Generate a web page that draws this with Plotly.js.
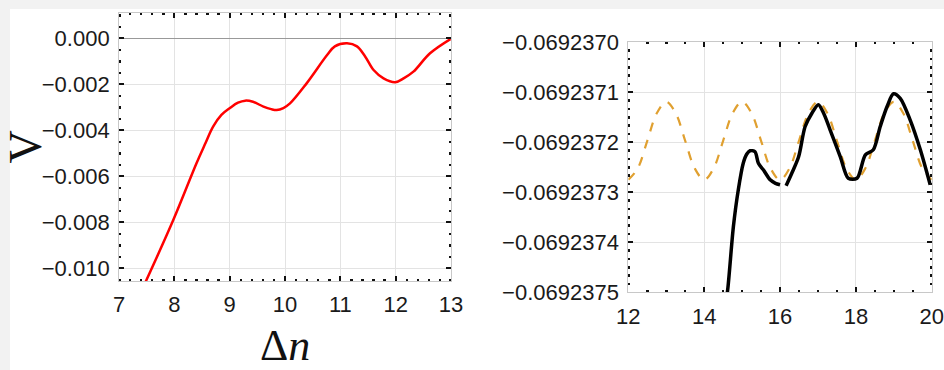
<!DOCTYPE html>
<html><head><meta charset="utf-8">
<script src="https://cdn.plot.ly/plotly-3.0.1.min.js"></script>
<style>html,body{margin:0;padding:0;background:#fff}#p{width:944px;height:370px}</style>
</head><body><div id="p"></div>
<script>
// Left panel: V vs Δn
const leftX = [7.47,7.98,8.40,8.55,8.70,8.85,9.01,9.15,9.28,9.42,9.61,9.75,9.85,9.97,10.09,10.39,10.76,10.90,11.12,11.30,11.45,11.60,11.78,11.99,12.15,12.32,12.62,12.99];
const leftV = [-0.01064,-0.0079,-0.00543,-0.00462,-0.00384,-0.00333,-0.00302,-0.00280,-0.00271,-0.00276,-0.00297,-0.00308,-0.00312,-0.00303,-0.00283,-0.00196,-0.00073,-0.00035,-0.00022,-0.00035,-0.00080,-0.00138,-0.00174,-0.00191,-0.00173,-0.00145,-0.00065,-0.00003];

// Right panel: dashed orange reference curve
const orangeX = [12,12.25,12.5,12.75,13,13.25,13.5,13.75,14,14.25,14.5,14.75,15,15.25,15.5,15.75,16,16.25,16.5,16.75,17,17.25,17.5,17.75,18,18.25,18.5,18.75,19,19.25,19.5,19.75,20];
const orangeV = [-0.069237275,-0.069237252,-0.069237197,-0.069237142,-0.069237119,-0.069237142,-0.069237197,-0.069237252,
 -0.069237275,-0.069237252,-0.069237197,-0.069237142,-0.069237119,-0.069237142,-0.069237197,-0.069237252,
 -0.069237275,-0.069237252,-0.069237197,-0.069237142,-0.069237119,-0.069237142,-0.069237197,-0.069237252,
 -0.069237275,-0.069237252,-0.069237197,-0.069237142,-0.069237119,-0.069237142,-0.069237197,-0.069237252,-0.069237275];

// Right panel: black numerical curve (two segments)
const black1X = [14.55,14.62,14.77,14.90,15.03,15.12,15.21,15.34,15.43,15.56,15.74,15.88,16.0];
const black1V = [-0.06923753,-0.069237495,-0.069237369,-0.069237295,-0.069237242,-0.069237224,-0.069237217,-0.069237219,-0.069237242,-0.069237255,-0.069237275,-0.069237282,-0.069237285];
const black2X = [16.16,16.31,16.49,16.66,16.84,17.01,17.15,17.32,17.59,17.80,18.03,18.25,18.46,18.64,18.82,18.99,19.17,19.43,19.70,19.96];
const black2V = [-0.069237287,-0.069237262,-0.069237229,-0.069237169,-0.069237142,-0.069237125,-0.069237142,-0.069237175,-0.069237229,-0.069237272,-0.069237272,-0.069237225,-0.069237215,-0.069237169,-0.069237129,-0.069237103,-0.069237112,-0.069237155,-0.069237215,-0.069237285];

const tickFont = {family:'Liberation Sans, Arial, sans-serif', size:22, color:'#1a1a1a'};
const gridC = '#e3e3e3';
function minor(d){ return {dtick:d, ticks:'inside', ticklen:2, tickwidth:2.5, tickcolor:'#111', showgrid:false}; }
function ax(extra){
  return Object.assign({
    showgrid:true, gridcolor:gridC, gridwidth:1, zeroline:false,
    showline:true, linecolor:'#c8c8c8', linewidth:1, mirror:'ticks',
    ticks:'inside', ticklen:5, tickwidth:2, tickcolor:'#111',
    tickfont:tickFont, ticklabelstandoff:4
  }, extra);
}
function mirrorY(extra){
  return Object.assign({
    side:'right', showgrid:false, zeroline:false, showline:false, showticklabels:false,
    ticks:'inside', ticklen:5, tickwidth:2, tickcolor:'#111'
  }, extra);
}

const traces = [
  {x:leftX, y:leftV, xaxis:'x', yaxis:'y', mode:'lines', line:{color:'#ff0000', width:2.5, shape:'spline', smoothing:1}, hoverinfo:'skip'},
  {x:orangeX, y:orangeV, xaxis:'x2', yaxis:'y2', mode:'lines', line:{color:'#e0a030', width:2.2, dash:'dash', shape:'spline'}, hoverinfo:'skip'},
  {x:black1X, y:black1V, xaxis:'x2', yaxis:'y2', mode:'lines', line:{color:'#000', width:3.5, shape:'spline', smoothing:0.8}, hoverinfo:'skip'},
  {x:black2X, y:black2V, xaxis:'x2', yaxis:'y2', mode:'lines', line:{color:'#000', width:3.5, shape:'spline', smoothing:0.8}, hoverinfo:'skip'}
];

const layout = {
  width:944, height:370, margin:{l:0,r:0,t:0,b:0},
  paper_bgcolor:'#fff', plot_bgcolor:'#fff', showlegend:false,
  shapes:[
    {type:'rect', xref:'paper', yref:'paper', x0:0, x1:1, y0:1-9/370, y1:1, fillcolor:'#f2f2f2', line:{width:0}, layer:'below'},
    {type:'rect', xref:'paper', yref:'paper', x0:0, x1:10/944, y0:0, y1:1, fillcolor:'#f2f2f2', line:{width:0}, layer:'below'}
  ],
  xaxis: ax({domain:[0.1261,0.4778], range:[7,13], dtick:1, anchor:'y', minor:minor(0.2),
    title:{text:'Δ<i>n</i>', font:{family:'Liberation Serif, serif', size:44, color:'#111'}, standoff:14}}),
  yaxis: ax({domain:[0.2405,0.9649], range:[-0.01055,0.0011], dtick:0.002, tickformat:'.3f', anchor:'x',
    zeroline:true, zerolinecolor:'#999', zerolinewidth:1.5, minor:minor(0.0005),
    title:{text:'V', font:{family:'Liberation Serif, serif', size:46, color:'#111'}, standoff:16}}),
  yaxis3: mirrorY({overlaying:'y', anchor:'x', range:[-0.01055,0.0011], dtick:0.002, minor:minor(0.0005)}),
  xaxis2: ax({domain:[0.6656,0.9870], range:[12,20], dtick:2, anchor:'y2', minor:minor(0.5)}),
  yaxis2: ax({domain:[0.2100,0.8857], range:[-0.0692375,-0.0692370], dtick:1e-7, tick0:-0.069237, tickformat:'.7f', anchor:'x2',
    minor:minor(1e-7/6)}),
  yaxis4: mirrorY({overlaying:'y2', anchor:'x2', range:[-0.0692375,-0.0692370], dtick:1e-7, tick0:-0.069237, minor:minor(1e-7/6)})
};

Plotly.newPlot('p', traces, layout, {staticPlot:true, displayModeBar:false});
</script>
</body></html>
